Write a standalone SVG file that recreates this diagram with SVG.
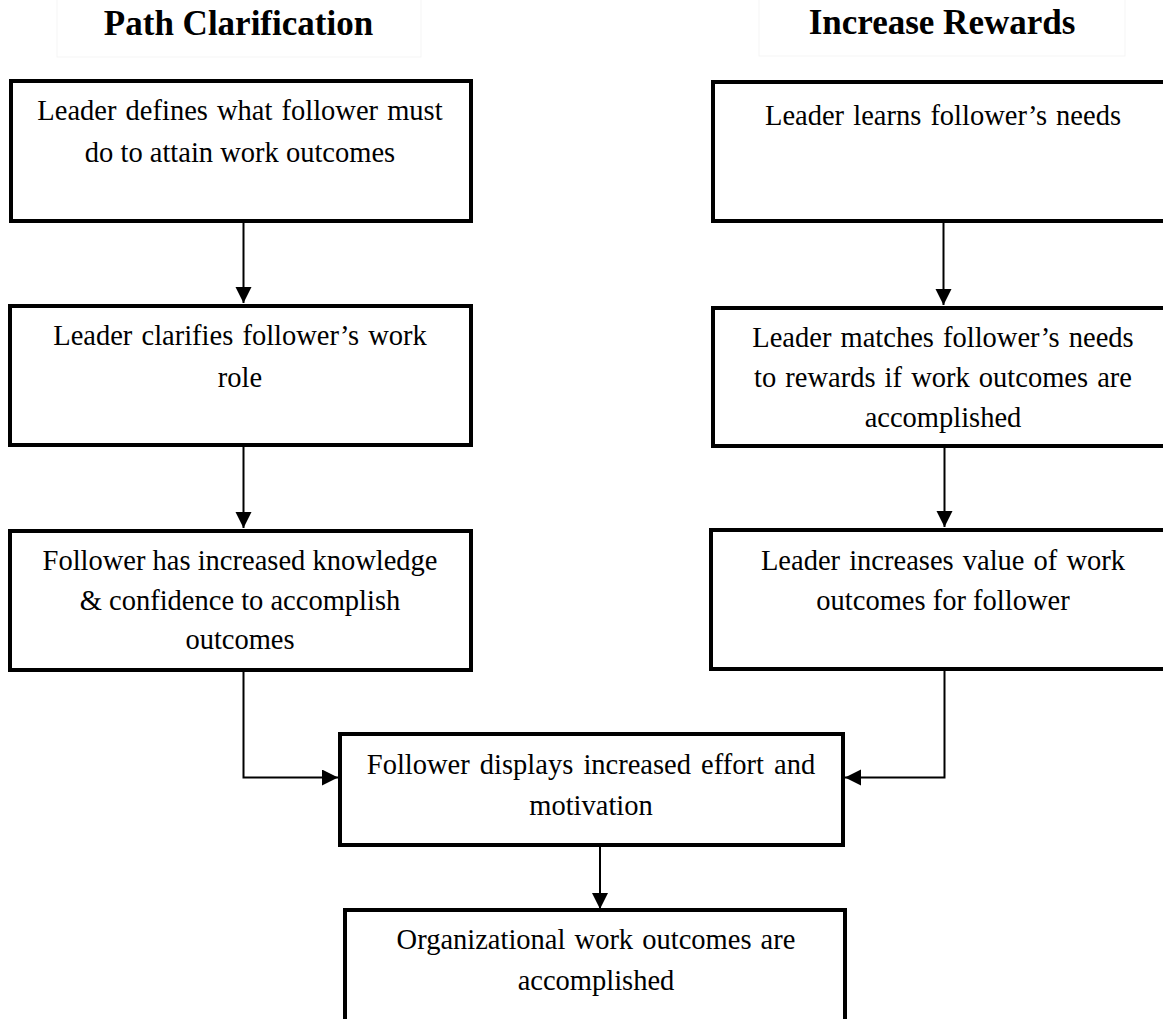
<svg xmlns="http://www.w3.org/2000/svg" width="1163" height="1019" viewBox="0 0 1163 1019">
<style>
  .box{fill:#fff;stroke:#000;stroke-width:4}
  .t{font-family:"Liberation Serif","Times New Roman",serif;font-size:28.5px;fill:#000;text-anchor:middle}
  .h{font-family:"Liberation Serif","Times New Roman",serif;font-size:35px;font-weight:bold;fill:#000;text-anchor:middle}
  .tb{fill:none;stroke:#f5f5f5;stroke-width:1}
  .c{fill:none;stroke:#000;stroke-width:2}
</style>
<defs>
  <marker id="ah" markerUnits="userSpaceOnUse" markerWidth="17" markerHeight="17" refX="16" refY="8" orient="auto">
    <path d="M0,0 L16,8 L0,16 Z" fill="#000"/>
  </marker>
</defs>
<rect width="1163" height="1019" fill="#fff"/>

<g id="title-path">
  <rect class="tb" x="57" y="-2" width="364" height="59"/>
  <text class="h" x="238.5" y="35">Path Clarification</text>
</g>
<g id="title-rewards">
  <rect class="tb" x="759" y="-2" width="366" height="58"/>
  <text class="h" x="942" y="34">Increase Rewards</text>
</g>

<g id="connectors">
  <line class="c" x1="243.5" y1="223" x2="243.5" y2="303" marker-end="url(#ah)"/>
  <line class="c" x1="243.5" y1="447" x2="243.5" y2="528" marker-end="url(#ah)"/>
  <line class="c" x1="943.5" y1="223" x2="943.5" y2="305" marker-end="url(#ah)"/>
  <line class="c" x1="944.5" y1="448" x2="944.5" y2="527" marker-end="url(#ah)"/>
  <path class="c" d="M243.5,672 V777.5 H338" marker-end="url(#ah)"/>
  <path class="c" d="M944.5,671 V777.5 H845" marker-end="url(#ah)"/>
  <line class="c" x1="600" y1="847" x2="600" y2="909" marker-end="url(#ah)"/>
</g>

<g id="n-defines">
  <rect class="box" x="11" y="81" width="460" height="140"/>
  <text class="t" x="240" y="120" word-spacing="2">Leader defines what follower must</text>
  <text class="t" x="240" y="162">do to attain work outcomes</text>
</g>
<g id="n-clarifies">
  <rect class="box" x="10" y="306" width="461" height="139"/>
  <text class="t" x="240" y="345" word-spacing="2">Leader clarifies follower’s work</text>
  <text class="t" x="240" y="387">role</text>
</g>
<g id="n-knowledge">
  <rect class="box" x="10" y="531" width="461" height="139"/>
  <text class="t" x="240" y="570">Follower has increased knowledge</text>
  <text class="t" x="240" y="609.5">&amp; confidence to accomplish</text>
  <text class="t" x="240" y="649">outcomes</text>
</g>
<g id="n-learns">
  <rect class="box" x="713" y="82" width="470" height="139"/>
  <text class="t" x="943" y="125" word-spacing="2">Leader learns follower’s needs</text>
</g>
<g id="n-matches">
  <rect class="box" x="713" y="308" width="470" height="138"/>
  <text class="t" x="943" y="346.5" word-spacing="2">Leader matches follower’s needs</text>
  <text class="t" x="943" y="386.5" word-spacing="2">to rewards if work outcomes are</text>
  <text class="t" x="943" y="426.5">accomplished</text>
</g>
<g id="n-increases">
  <rect class="box" x="711" y="530" width="472" height="139"/>
  <text class="t" x="943" y="569.5" word-spacing="2">Leader increases value of work</text>
  <text class="t" x="943" y="610">outcomes for follower</text>
</g>
<g id="n-effort">
  <rect class="box" x="340" y="734" width="503" height="111"/>
  <text class="t" x="591" y="773.5" word-spacing="3">Follower displays increased effort and</text>
  <text class="t" x="591" y="815">motivation</text>
</g>
<g id="n-outcomes">
  <rect class="box" x="345" y="910" width="500" height="130"/>
  <text class="t" x="596" y="948.5" word-spacing="2">Organizational work outcomes are</text>
  <text class="t" x="596" y="989.5">accomplished</text>
</g>
</svg>
